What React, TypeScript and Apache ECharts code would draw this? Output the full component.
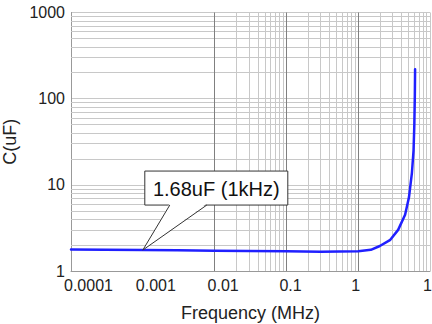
import React, { useEffect, useRef } from "react";
import * as echarts from "echarts";

// Curve: frequency (MHz) and capacitance (uF)
const freqMHz = [0.0001, 0.0003, 0.001, 0.003, 0.01, 0.03, 0.1, 0.3, 1, 1.5, 2, 2.8, 3.6, 4.5, 5.1, 5.6, 5.9, 6.05, 6.15, 6.2];
const capUF = [1.78, 1.76, 1.75, 1.74, 1.72, 1.71, 1.7, 1.67, 1.7, 1.76, 1.95, 2.3, 3.0, 4.5, 7.2, 13.8, 25, 50, 110, 220];

// Axis ranges / tick labels
const xMin = 0.0001;
const xMax = 10;
const yMin = 1;
const yMax = 1000;
const decadesX = [0.0001, 0.001, 0.01, 0.1, 1];
const decadesY = [1, 10, 100];
const minorSteps = [2, 3, 4, 5, 6, 7, 8, 9];

// Annotation
const annotFreq = 0.001;
const annotCap = 1.75;
const annotText = "1.68uF (1kHz)";

export default function App() {
  const ref = useRef<HTMLDivElement>(null);
  useEffect(() => {
    document.body.style.margin = "0";
    const chart = echarts.init(ref.current!, undefined, { renderer: "svg" });
    const xMinor: number[] = [];
    decadesX.forEach((d) => minorSteps.forEach((s) => xMinor.push(d * s)));
    const yMinor: number[] = [];
    decadesY.forEach((d) => minorSteps.forEach((s) => yMinor.push(d * s)));
    const xMajorInner = [0.001, 0.01, 0.1, 1];
    const font = "Liberation Sans, Arial, sans-serif";
    const fmt = (v: number) => {
      const s = String(v);
      if (s.includes("e")) return v.toFixed(4);
      return s;
    };

    chart.setOption({
      animation: false,
      grid: { left: 71, right: 2, top: 12.5, bottom: 53, outerBoundsMode: "none", containLabel: false },
      xAxis: {
        type: "log",
        logBase: 10,
        min: xMin,
        max: xMax,
        name: "Frequency (MHz)",
        nameLocation: "middle",
        nameGap: 33,
        nameTextStyle: { fontSize: 18, color: "#222", fontFamily: font },
        axisLine: { show: true, lineStyle: { color: "#999", width: 1 } },
        axisTick: { show: false },
        splitLine: { show: false },
        axisLabel: {
          fontSize: 16,
          color: "#222",
          fontFamily: font,
          margin: 6,
          align: "left",
          padding: [0, 0, 0, -7],
          hideOverlap: false,
          formatter: fmt,
        },
      },
      yAxis: {
        type: "log",
        logBase: 10,
        min: yMin,
        max: yMax,
        name: "C(uF)",
        nameLocation: "middle",
        nameGap: 37,
        nameTextStyle: { fontSize: 18, color: "#222", fontFamily: font },
        axisLine: { show: true, lineStyle: { color: "#999", width: 1 } },
        axisTick: { show: false },
        splitLine: { show: true, lineStyle: { color: "#c8c8c8", width: 1 } },
        axisLabel: { fontSize: 16, color: "#222", fontFamily: font, margin: 6, formatter: fmt },
      },
      series: [
        {
          type: "line",
          name: "minorGrid",
          data: [],
          silent: true,
          z: 1,
          markLine: {
            silent: true,
            symbol: "none",
            label: { show: false },
            animation: false,
            data: [
              ...xMinor.map((v) => ({ xAxis: v, lineStyle: { color: "#c8c8c8", width: 1, type: "solid" } })),
              ...yMinor.map((v) => ({ yAxis: v, lineStyle: { color: "#c8c8c8", width: 1, type: "solid" } })),
              ...xMajorInner.map((v) => ({ xAxis: v, lineStyle: { color: "#808080", width: 1, type: "solid" } })),
              { xAxis: xMax, lineStyle: { color: "#c8c8c8", width: 1, type: "solid" } },
            ],
          },
        },
        {
          type: "line",
          name: "C",
          data: freqMHz.map((f, i) => [f, capUF[i]]),
          showSymbol: false,
          symbol: "none",
          smooth: false,
          z: 5,
          lineStyle: { color: "#2020ff", width: 2.5, join: "round", cap: "round" },
        },
      ],
    });

    const tip = chart.convertToPixel({ gridIndex: 0 }, [annotFreq, annotCap]) as number[];
    const tx = tip[0];
    const ty = tip[1];
    const boxL = tx + 2;
    const boxT = ty - 79;
    const boxW = 143;
    const boxH = 34;
    const baseY = boxT + boxH;
    chart.setOption({
      graphic: [
        {
          type: "rect",
          z: 100,
          shape: { x: boxL, y: boxT, width: boxW, height: boxH },
          style: { fill: "#fff", stroke: "#333", lineWidth: 1 },
        },
        {
          type: "polygon",
          z: 101,
          shape: { points: [[tx + 27, baseY - 1.5], [tx, ty], [tx + 64, baseY - 1.5]] },
          style: { fill: "#fff", stroke: "none" },
        },
        {
          type: "polyline",
          z: 102,
          shape: { points: [[tx + 27, baseY], [tx, ty], [tx + 64, baseY]] },
          style: { fill: "none", stroke: "#333", lineWidth: 1 },
        },
        {
          type: "text",
          z: 103,
          x: boxL + boxW / 2,
          y: boxT + boxH / 2 + 1,
          style: {
            text: annotText,
            fontSize: 20,
            fontFamily: font,
            fill: "#111",
            align: "center",
            verticalAlign: "middle",
          },
        },
      ],
    });
    return () => chart.dispose();
  }, []);
  return <div ref={ref} style={{ position: "absolute", left: 0, top: 0, width: 432, height: 324 }} />;
}
